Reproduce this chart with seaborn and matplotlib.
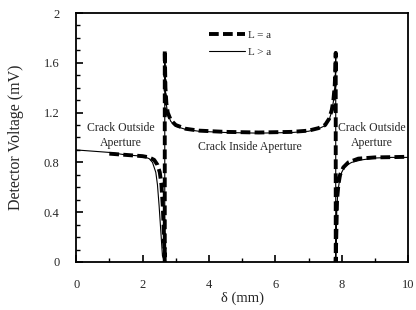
import numpy as np
import pandas as pd
import matplotlib
matplotlib.use("Agg")
import matplotlib.pyplot as plt
import seaborn as sns
from matplotlib.ticker import MultipleLocator

# L = a (dashed, heavy)
x_a = [1.0, 1.5, 2.0, 2.2, 2.35, 2.45, 2.52, 2.57, 2.61, 2.64, 2.67, 2.67,
       2.69, 2.72, 2.76, 2.85, 3.0, 3.3, 3.7, 4.5, 5.5, 6.5, 7.0, 7.3, 7.5,
       7.62, 7.7, 7.75, 7.79, 7.81, 7.82, 7.82, 7.86, 7.9, 7.95, 8.05, 8.2,
       8.5, 9.0, 9.5, 10.0]
y_a = [0.87, 0.86, 0.85, 0.84, 0.82, 0.78, 0.72, 0.62, 0.45, 0.25, 0.0, 1.70,
       1.40, 1.27, 1.20, 1.14, 1.10, 1.07, 1.055, 1.045, 1.04, 1.045, 1.055,
       1.075, 1.10, 1.15, 1.22, 1.30, 1.42, 1.55, 1.68, 0.0, 0.50, 0.62, 0.70,
       0.76, 0.80, 0.83, 0.84, 0.842, 0.845]

# L > a (thin solid)
x_b = [0.0, 0.5, 1.0, 1.5, 2.0, 2.2, 2.3, 2.4, 2.45, 2.5, 2.55, 2.6, 2.67,
       2.67, 2.69, 2.72, 2.76, 2.85, 3.0, 3.3, 3.7, 4.5, 5.5, 6.5, 7.0, 7.3,
       7.5, 7.62, 7.7, 7.75, 7.79, 7.81, 7.82, 7.82, 7.85, 7.88, 7.93, 8.0,
       8.1, 8.3, 8.6, 9.0, 9.5, 10.0]
y_b = [0.90, 0.89, 0.88, 0.86, 0.85, 0.83, 0.80, 0.72, 0.62, 0.45, 0.25, 0.05,
       0.0, 1.68, 1.38, 1.26, 1.19, 1.13, 1.09, 1.065, 1.05, 1.04, 1.035,
       1.04, 1.05, 1.07, 1.095, 1.14, 1.21, 1.29, 1.40, 1.52, 1.66, 0.0, 0.40,
       0.55, 0.65, 0.72, 0.77, 0.80, 0.82, 0.835, 0.84, 0.84]

sns.set_style("ticks")
plt.rcParams['font.family'] = ['Liberation Serif', 'DejaVu Serif']

fig = plt.figure(figsize=(4.16, 3.10), dpi=100)
ax = fig.add_axes([0.183, 0.155, 0.798, 0.803])

sns.lineplot(x=x_b, y=y_b, ax=ax, color="black", lw=0.8, label="L > a",
             sort=False, estimator=None)
sns.lineplot(x=x_a, y=y_a, ax=ax, color="black", lw=2.8, label="L = a",
             sort=False, estimator=None, dashes=False)
ax.lines[1].set_dashes((2.5, 1.1))

ax.set_xlim(0, 10)
ax.set_ylim(0, 2)
ax.set_xticks([0, 2, 4, 6, 8, 10])
ax.set_xticklabels(["0", "2", "4", "6", "8", "10"])
ax.set_yticks([0, 0.4, 0.8, 1.2, 1.6, 2])
ax.set_yticklabels(["0", "0.4", "0.8", "1.2", "1.6", "2"])
ax.xaxis.set_minor_locator(MultipleLocator(1))
ax.yaxis.set_minor_locator(MultipleLocator(0.1))
ax.tick_params(which="major", direction="in", length=5, width=1.2,
               labelsize=9, pad=12, color="black")
ax.tick_params(which="minor", direction="in", length=3, width=1.0, color="black")
for s in ax.spines.values():
    s.set_visible(True)
    s.set_linewidth(1.3)
    s.set_color("black")

ax.set_xlabel("δ (mm)", fontsize=10.5, labelpad=1)
ax.set_ylabel("Detector Voltage (mV)", fontsize=11.5, labelpad=14)

ax.text(1.35, 1.015, "Crack Outside\nAperture", ha="center", va="center",
        fontsize=8.5, linespacing=1.3)
ax.text(5.24, 0.92, "Crack Inside Aperture", ha="center", va="center",
        fontsize=8.5)
ax.text(8.9, 1.015, "Crack Outside\nAperture", ha="center", va="center",
        fontsize=8.5, linespacing=1.3)

h, l = ax.get_legend_handles_labels()
ax.legend(h[::-1], l[::-1], loc="upper left", bbox_to_anchor=(0.37, 0.97),
          frameon=False, fontsize=8, handlelength=3.2, handletextpad=0.3,
          labelspacing=0.6)

fig.savefig("out.png", dpi=100)
